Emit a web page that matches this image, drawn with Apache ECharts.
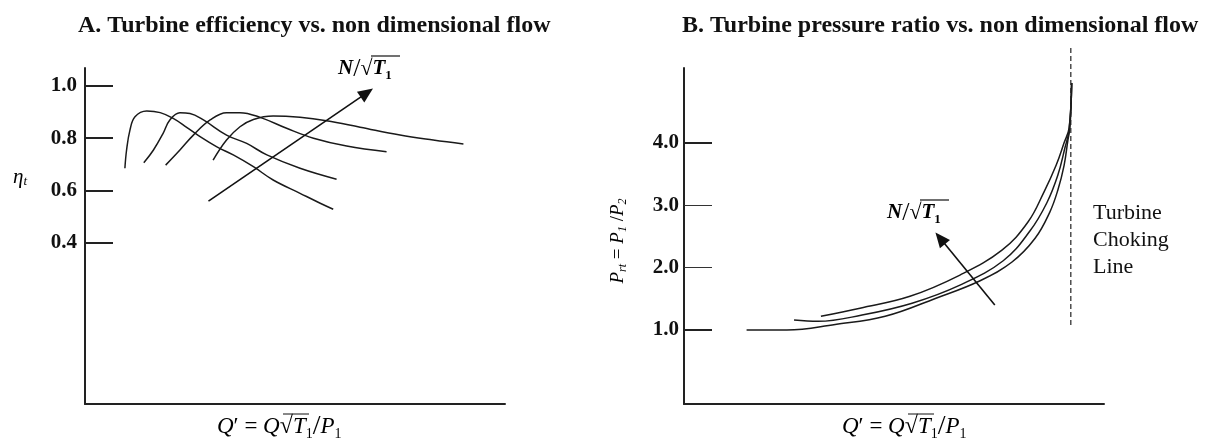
<!DOCTYPE html>
<html>
<head>
<meta charset="utf-8">
<title>Turbine characteristics</title>
<script src="https://cdn.jsdelivr.net/npm/echarts@6/dist/echarts.min.js"></script>
<style>
  html, body { margin: 0; padding: 0; background: #fff; }
  #main { width: 1212px; height: 439px; }
</style>
</head>
<body>
<div id="main"></div>
<script>
// A. efficiency lines, [flow, eta] - one line per speed N/sqrt(T1)
var effSpeed1 = [[9.5, 0.685], [9.9, 0.755], [10.7, 0.831], [11.9, 0.882], [14.7, 0.904], [17.9, 0.898], [21.0, 0.876], [24.2, 0.842], [27.4, 0.806], [31.4, 0.767], [35.3, 0.736], [40.1, 0.691], [44.8, 0.640], [51.2, 0.589], [56.0, 0.551], [59.1, 0.528]];
var effSpeed2 = [[14.0, 0.706], [16.3, 0.755], [18.6, 0.819], [20.2, 0.870], [22.6, 0.898], [25.0, 0.895], [28.2, 0.870], [33.7, 0.812], [38.5, 0.780], [43.3, 0.736], [51.2, 0.685], [59.9, 0.643]];
var effSpeed3 = [[19.2, 0.697], [22.6, 0.755], [25.8, 0.812], [29.8, 0.870], [33.7, 0.898], [36.9, 0.898], [41.7, 0.880], [48.0, 0.838], [54.4, 0.800], [62.3, 0.770], [71.8, 0.748]];
var effSpeed4 = [[30.5, 0.716], [33.7, 0.793], [36.9, 0.844], [40.1, 0.872], [44.8, 0.885], [51.2, 0.880], [57.5, 0.867], [65.5, 0.842], [75.0, 0.812], [82.9, 0.793], [90.1, 0.778]];
var effArrow = [[29.4, 0.559], [67.1, 0.974]];
var effTicks = [0.4, 0.6, 0.8, 1.0];

// B. pressure ratio lines, [flow, P1/P2]
var prSpeed1 = [[14.9, 1.00], [24.5, 1.00], [36.0, 1.09], [47.9, 1.22], [60.0, 1.51], [70.5, 1.79], [78.1, 2.09], [83.6, 2.47], [87.1, 2.89], [89.0, 3.24], [90.5, 3.64], [91.4, 4.04], [91.9, 4.25], [92.3, 4.96]];
var prSpeed2 = [[26.2, 1.16], [31.9, 1.14], [42.4, 1.24], [54.3, 1.43], [65.7, 1.72], [76.0, 2.11], [82.4, 2.59], [86.4, 3.04], [89.0, 3.48], [90.7, 3.92], [91.7, 4.21], [92.3, 4.96]];
var prSpeed3 = [[32.6, 1.22], [41.9, 1.35], [53.8, 1.54], [65.7, 1.88], [75.7, 2.28], [81.9, 2.73], [85.7, 3.21], [88.6, 3.64], [90.5, 4.00], [91.7, 4.24], [92.3, 4.96]];
var chokeLine = [[92.1, 1.08], [92.1, 5.54]];
var prArrow = [[74.0, 1.40], [61.0, 2.47]];
var prTicksMajor = [1, 4];
var prTicksMinor = [2, 3];

var serif = '"Liberation Serif", "DejaVu Serif", serif';
var ink = '#111';

function curve(data, xi, yi) {
  return {
    type: 'line',
    xAxisIndex: xi,
    yAxisIndex: yi,
    data: data,
    smooth: 0.4,
    symbol: 'none',
    silent: true,
    lineStyle: { color: '#1a1a1a', width: 1.5 }
  };
}

function arrow(xi, yi, pts) {
  return {
    type: 'line',
    xAxisIndex: xi,
    yAxisIndex: yi,
    data: [],
    silent: true,
    markLine: {
      silent: true,
      symbol: ['none', 'triangle'],
      symbolSize: [13, 15],
      label: { show: false },
      lineStyle: { color: ink, width: 1.6, type: 'solid' },
      emphasis: { disabled: true },
      data: [[{ coord: pts[0] }, { coord: pts[1] }]]
    }
  };
}

var tickLabel = {
  fontFamily: serif,
  fontWeight: 'bold',
  fontSize: 21,
  color: ink,
  formatter: function (v) { return Number(v).toFixed(1); }
};

// formula pieces in rich text
var mathRich = {
  i: { fontFamily: serif, fontStyle: 'italic', fontSize: 21, color: ink },
  ib: { fontFamily: serif, fontStyle: 'italic', fontWeight: 'bold', fontSize: 21, color: ink },
  s: { fontFamily: serif, fontSize: 13, color: ink, verticalAlign: 'bottom', lineHeight: 24 },
  sb: { fontFamily: serif, fontWeight: 'bold', fontSize: 13, color: ink, verticalAlign: 'bottom', lineHeight: 26 },
  sl: { fontFamily: serif, fontSize: 26, color: ink },
  r: { fontFamily: serif, fontSize: 22, color: ink },
  e: { fontFamily: serif, fontSize: 21, color: ink }
};

var flowRich = {
  i: { fontFamily: serif, fontStyle: 'italic', fontSize: 23, color: ink },
  s: { fontFamily: serif, fontSize: 14, color: ink, verticalAlign: 'bottom', lineHeight: 27 },
  sl: { fontFamily: serif, fontSize: 28, color: ink },
  r: { fontFamily: serif, fontSize: 24, color: ink },
  e: { fontFamily: serif, fontSize: 23, color: ink }
};

function speedLabel(x, y) {
  return {
    type: 'group',
    x: x,
    y: y,
    children: [
      { type: 'text', style: { text: '{ib|N}{sl|/}{r|√}{ib|T}{sb|1}', rich: mathRich, verticalAlign: 'middle' } },
      { type: 'line', shape: { x1: 33, y1: -13, x2: 62, y2: -13 }, style: { stroke: ink, lineWidth: 1.2 } }
    ]
  };
}

function flowLabel(x, y) {
  return {
    type: 'group',
    x: x,
    y: y,
    children: [
      { type: 'text', style: { text: '{i|Q}{e|′ = }{i|Q}{r|√}{i|T}{s|1}{sl|/}{i|P}{s|1}', rich: flowRich, verticalAlign: 'middle' } },
      { type: 'line', shape: { x1: 66, y1: -13, x2: 92, y2: -13 }, style: { stroke: ink, lineWidth: 1 } }
    ]
  };
}

var chart = echarts.init(document.getElementById('main'));

var option = {
  animation: false,
  backgroundColor: '#fff',
  grid: [
    { left: 85, top: 68, width: 420, height: 336 },
    { left: 684, top: 68, width: 420, height: 336 }
  ],
  xAxis: [
    {
      gridIndex: 0, type: 'value', min: 0, max: 100,
      axisLine: { onZero: false, lineStyle: { color: '#222', width: 2 } },
      axisTick: { show: false }, axisLabel: { show: false }, splitLine: { show: false }
    },
    {
      gridIndex: 1, type: 'value', min: 0, max: 100,
      axisLine: { onZero: false, lineStyle: { color: '#222', width: 2 } },
      axisTick: { show: false }, axisLabel: { show: false }, splitLine: { show: false }
    }
  ],
  yAxis: [
    {
      gridIndex: 0, type: 'value', min: -0.218, max: 1.069, position: 'left',
      axisLine: { show: true, onZero: false, lineStyle: { color: '#222', width: 2 } },
      axisTick: { show: true, inside: true, length: 28, customValues: effTicks, lineStyle: { color: '#222', width: 2 } },
      axisLabel: Object.assign({ customValues: effTicks, margin: 8 }, tickLabel),
      splitLine: { show: false }
    },
    {
      gridIndex: 1, type: 'value', min: -0.186, max: 5.199, position: 'left',
      axisLine: { show: true, onZero: false, lineStyle: { color: '#222', width: 2 } },
      axisTick: { show: true, inside: true, length: 28, customValues: prTicksMajor, lineStyle: { color: '#222', width: 2 } },
      axisLabel: Object.assign({ customValues: prTicksMajor, margin: 5 }, tickLabel),
      splitLine: { show: false }
    },
    {
      gridIndex: 1, type: 'value', min: -0.186, max: 5.199, position: 'left', offset: 0,
      axisLine: { show: false, onZero: false },
      axisTick: { show: true, inside: true, length: 28, customValues: prTicksMinor, lineStyle: { color: '#333', width: 1 } },
      axisLabel: Object.assign({ customValues: prTicksMinor, margin: 5 }, tickLabel),
      splitLine: { show: false }
    }
  ],
  series: [
    curve(effSpeed1, 0, 0),
    curve(effSpeed2, 0, 0),
    curve(effSpeed3, 0, 0),
    curve(effSpeed4, 0, 0),
    arrow(0, 0, effArrow),
    curve(prSpeed1, 1, 1),
    curve(prSpeed2, 1, 1),
    curve(prSpeed3, 1, 1),
    arrow(1, 1, prArrow),
    {
      type: 'line', xAxisIndex: 1, yAxisIndex: 1, data: chokeLine,
      symbol: 'none', silent: true, clip: false,
      lineStyle: { color: '#222', width: 1.2, type: [5, 3] }
    }
  ],
  graphic: [
    {
      type: 'text', x: 78, y: 26,
      style: { text: 'A. Turbine efficiency vs. non dimensional flow', fontFamily: serif, fontWeight: 'bold', fontSize: 24, fill: ink, verticalAlign: 'middle' }
    },
    {
      type: 'text', x: 682, y: 26,
      style: { text: 'B. Turbine pressure ratio vs. non dimensional flow', fontFamily: serif, fontWeight: 'bold', fontSize: 24, fill: ink, verticalAlign: 'middle' }
    },
    {
      type: 'text', x: 13, y: 177,
      style: { text: '{i|η}{s|t}', rich: { i: mathRich.i, s: { fontFamily: serif, fontStyle: 'italic', fontSize: 13, color: ink, verticalAlign: 'bottom', lineHeight: 22 } }, verticalAlign: 'middle' }
    },
    {
      type: 'text', x: 618, y: 241, rotation: Math.PI / 2,
      style: {
        text: '{i|P}{s|rt}{e| = }{i|P}{s|1}{e| /}{i|P}{s|2}',
        rich: {
          i: { fontFamily: serif, fontStyle: 'italic', fontSize: 19, color: '#444' },
          s: { fontFamily: serif, fontStyle: 'italic', fontSize: 12, color: '#444', verticalAlign: 'bottom', lineHeight: 22 },
          e: { fontFamily: serif, fontSize: 19, color: '#444' }
        },
        align: 'center', verticalAlign: 'middle'
      }
    },
    {
      type: 'text', x: 1093, y: 240,
      style: { text: 'Turbine\nChoking\nLine', fontFamily: serif, fontSize: 22, lineHeight: 27, fill: ink, verticalAlign: 'middle' }
    },
    speedLabel(338, 69),
    speedLabel(887, 213),
    flowLabel(217, 427),
    flowLabel(842, 427)
  ]
};

chart.setOption(option);
</script>
</body>
</html>
